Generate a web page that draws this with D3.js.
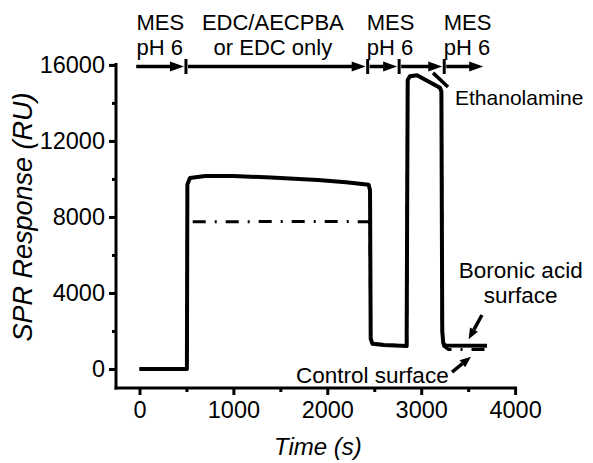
<!DOCTYPE html>
<html>
<head>
<meta charset="utf-8">
<script src="https://cdn.jsdelivr.net/npm/d3@7"></script>
<style>
  html, body { margin: 0; padding: 0; background: #fff; }
  svg { display: block; }
  text { font-family: "Liberation Sans", Arial, sans-serif; fill: #000; }
</style>
</head>
<body>
<svg id="chart" width="593" height="463"></svg>
<script>
// SPR sensorgram: boronic acid surface (solid) and control surface (dash-dot)
const boronicTime = [0, 505, 510, 537, 700, 1000, 1400, 1900, 2200, 2440, 2455, 2462, 2480, 2600, 2845, 2850, 2856, 2880, 2955, 3200, 3215, 3224, 3235, 3260, 3700];
const boronicRU   = [0, 0, 9700, 10050, 10150, 10150, 10080, 9950, 9820, 9700, 9400, 1600, 1330, 1260, 1210, 8000, 15200, 15400, 15450, 14800, 14600, 2000, 1350, 1230, 1220];

const controlTime = [0, 505, 510, 560, 1000, 1500, 2000, 2440, 2455, 2462, 2480, 2845, 2850, 2856, 2880, 2955, 3200, 3215, 3224, 3240, 3290, 3700];
const controlRU   = [0, 0, 7600, 7750, 7750, 7760, 7760, 7750, 7600, 1600, 1330, 1210, 8000, 15200, 15400, 15450, 14800, 14600, 2000, 1200, 1030, 1030];

const xTicks = [0, 1000, 2000, 3000, 4000];
const xMinorTicks = [500, 1500, 2500, 3500];
const yTicks = [0, 4000, 8000, 12000, 16000];
const yMinorTicks = [2000, 6000, 10000, 14000];

// injection phases along the top (seconds)
const phaseBounds = [495, 2430, 2765, 3245];
const phaseStart = -35, phaseEnd = 3660;
const phaseLabels = [
  { t: -32, lines: ["MES", "pH 6"], anchor: "start" },
  { t: 1420, lines: ["EDC/AECPBA", "or EDC only"], anchor: "middle" },
  { t: 2420, lines: ["MES", "pH 6"], anchor: "start" },
  { t: 3240, lines: ["MES", "pH 6"], anchor: "start" }
];

const svg = d3.select("#chart");
const x = d3.scaleLinear().domain([-250, 4020]).range([116, 517]);
const y = d3.scaleLinear().domain([-1000, 16100]).range([388, 63]);

// axes
const xAxis = svg.append("g").attr("transform", `translate(0,${y(-1000)})`)
  .call(d3.axisBottom(x).tickValues(xTicks).tickSize(7).tickPadding(6).tickFormat(d3.format("d")));
xAxis.append("g").call(d3.axisBottom(x).tickValues(xMinorTicks).tickSize(4).tickFormat(""))
  .select(".domain").remove();
const yAxis = svg.append("g").attr("transform", `translate(${x(-250)},0)`)
  .call(d3.axisLeft(y).tickValues(yTicks).tickSize(7).tickPadding(4).tickFormat(d3.format("d")));
yAxis.append("g").call(d3.axisLeft(y).tickValues(yMinorTicks).tickSize(4).tickFormat(""))
  .select(".domain").remove();

svg.selectAll(".domain").attr("stroke", "#000").attr("stroke-width", 3);
xAxis.select(".domain").attr("d", `M${x(-250) - 1.5},0H${x(4020)}`);
yAxis.select(".domain").attr("d", `M0,${y(16100)}V${y(-1000) + 1.5}`);
svg.selectAll(".tick line").attr("stroke", "#000").attr("stroke-width", 3);
svg.selectAll(".tick text").style("font-size", "23.5px");

// axis titles
svg.append("text").attr("x", x(1900)).attr("y", 455)
  .attr("text-anchor", "middle").style("font-size", "24px").style("font-style", "italic")
  .text("Time (s)");
svg.append("text").attr("transform", `translate(32,${y(8000)}) rotate(-90)`)
  .attr("text-anchor", "middle").style("font-size", "27px").style("font-style", "italic")
  .text("SPR Response (RU)");

// traces
const line = d3.line().x(d => x(d[0])).y(d => y(d[1]));
svg.append("path").datum(d3.zip(controlTime, controlRU)).attr("d", line)
  .attr("fill", "none").attr("stroke", "#000").attr("stroke-width", 3)
  .attr("stroke-dasharray", "13,9,2,9");
svg.append("path").datum(d3.zip(boronicTime, boronicRU)).attr("d", line)
  .attr("fill", "none").attr("stroke", "#000").attr("stroke-width", 4)
  .attr("stroke-linejoin", "round");

// phase arrows
const arrowY = 66.5;
const segs = [phaseStart, ...phaseBounds, phaseEnd];
const ga = svg.append("g");
for (let i = 0; i < segs.length - 1; i++) {
  const x0 = x(segs[i]) + (i === 0 ? 0 : 2);
  const x1 = x(segs[i + 1]) - (i === segs.length - 2 ? 0 : 2);
  ga.append("line").attr("x1", x0).attr("x2", x1 - 10).attr("y1", arrowY).attr("y2", arrowY)
    .attr("stroke", "#000").attr("stroke-width", 3.5);
  ga.append("path").attr("d", `M${x1},${arrowY}L${x1 - 14},${arrowY - 5}L${x1 - 14},${arrowY + 5}Z`)
    .attr("fill", "#000");
}
phaseBounds.forEach(t => {
  ga.append("line").attr("x1", x(t)).attr("x2", x(t)).attr("y1", 59).attr("y2", 74)
    .attr("stroke", "#000").attr("stroke-width", 3);
});
phaseLabels.forEach(p => {
  p.lines.forEach((s, j) => {
    ga.append("text").attr("x", x(p.t)).attr("y", 30 + j * 25)
      .attr("text-anchor", p.anchor).style("font-size", "22px").text(s);
  });
});

// callouts
function arrow(t0, v0, t1, v1, head) {
  const ax = x(t0), ay = y(v0), bx = x(t1), by = y(v1);
  const ang = Math.atan2(by - ay, bx - ax);
  const L = head ? 11 : 0;
  svg.append("line").attr("x1", ax).attr("y1", ay)
    .attr("x2", bx - L * Math.cos(ang)).attr("y2", by - L * Math.sin(ang))
    .attr("stroke", "#000").attr("stroke-width", 3.5);
  if (head) {
    const w = 4.5;
    const px = bx - L * Math.cos(ang), py = by - L * Math.sin(ang);
    svg.append("path").attr("d",
      `M${bx},${by}L${px + w * Math.sin(ang)},${py - w * Math.cos(ang)}L${px - w * Math.sin(ang)},${py + w * Math.cos(ang)}Z`)
      .attr("fill", "#000");
  }
}
arrow(3126, 15580, 3285, 14840, false);
svg.append("text").attr("x", x(3360)).attr("y", 105).style("font-size", "21px").text("Ethanolamine");

svg.append("text").attr("x", x(4060)).attr("y", 278).attr("text-anchor", "middle")
  .style("font-size", "22.5px").text("Boronic acid");
svg.append("text").attr("x", x(4060)).attr("y", 303).attr("text-anchor", "middle")
  .style("font-size", "22.5px").text("surface");
arrow(3647, 2840, 3505, 1560, true);

svg.append("text").attr("x", x(2480)).attr("y", 383).attr("text-anchor", "middle")
  .style("font-size", "22.5px").text("Control surface");
arrow(3328, -160, 3530, 640, true);
</script>
</body>
</html>
